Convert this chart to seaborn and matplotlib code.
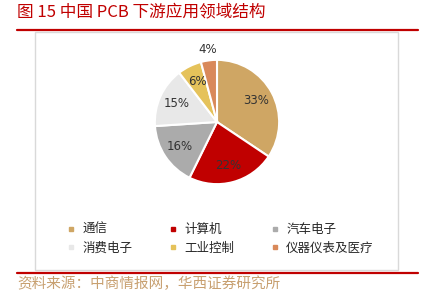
import matplotlib
matplotlib.use("Agg")
import numpy as np
import matplotlib.pyplot as plt
import seaborn as sns
from matplotlib.patches import Rectangle
from matplotlib.lines import Line2D

sns.set_theme(style="white")
plt.rcParams['font.family'] = ['Noto Sans CJK SC', 'DejaVu Sans']

categories = ['通信', '计算机', '汽车电子', '消费电子', '工业控制', '仪器仪表及医疗']
shares = [33, 22, 16, 15, 6, 4]
colors = ['#CFA664', '#C00000', '#ABABAB', '#E8E8E8', '#E5C25A', '#D9895A']

fig = plt.figure(figsize=(4.27, 2.98), dpi=100)
W, H = 427, 298

# title and rules
fig.text(17 / W, 1 - 12 / H, '图 15 中国 PCB 下游应用领域结构', color='#C00000',
         fontsize=12, va='center', ha='left')
fig.add_artist(Line2D([17 / W, 418 / W], [1 - 30 / H, 1 - 30 / H], color='#C00000', lw=1.6))
fig.add_artist(Line2D([17 / W, 418 / W], [1 - 273 / H, 1 - 273 / H], color='#C00000', lw=1.6))
fig.add_artist(Rectangle((35 / W, 1 - 270 / H), (398 - 35) / W, (270 - 32) / H,
                         transform=fig.transFigure, fill=False, ec='#D9D9D9', lw=1))
fig.text(17 / W, 1 - 284 / H, '资料来源：中商情报网，华西证券研究所', color='#C8A070',
         fontsize=10.5, va='center', ha='left')

# pie
ax = fig.add_axes([(217 - 64) / W, 1 - (122 + 64) / H, 128 / W, 128 / H])
wedges, texts = ax.pie(shares, colors=colors, startangle=90, counterclock=False,
                       wedgeprops=dict(edgecolor='white', linewidth=1.5))
for w, v in zip(wedges, shares):
    ang = np.deg2rad((w.theta1 + w.theta2) / 2)
    r = 1.17 if v < 5 else 0.72
    ax.text(r * np.cos(ang), r * np.sin(ang), f'{v}%', ha='center', va='center',
            fontsize=8.5, color='#333333', family='DejaVu Sans')
ax.set_aspect('equal')
ax.set_xlim(-1.03, 1.03)
ax.set_ylim(-1.03, 1.03)
ax.axis('off')

# legend (row-major like the original)
handles = [Line2D([], [], marker='s', linestyle='', color=c, markersize=3.5) for c in colors]
order = [0, 3, 1, 4, 2, 5]
fig.legend([handles[i] for i in order], [categories[i] for i in order], ncol=3,
           loc='center left', bbox_to_anchor=(56 / W, 1 - 239 / H),
           frameon=False, fontsize=9, handlelength=0.6, handletextpad=0.6,
           columnspacing=2.96, labelspacing=0.45)

fig.savefig('out.png', dpi=100)
